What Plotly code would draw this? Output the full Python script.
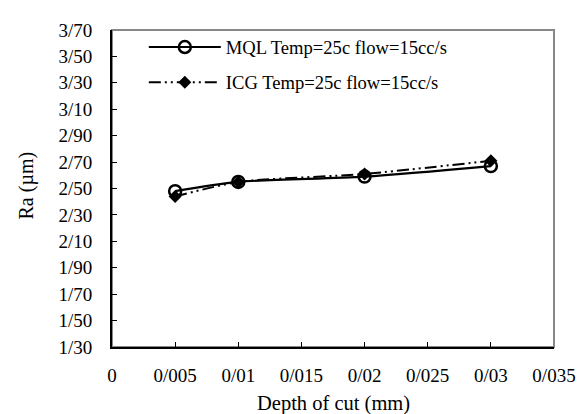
import plotly.graph_objects as go

depth = [0.005, 0.01, 0.02, 0.03]
ra_mql = [2.48, 2.55, 2.59, 2.67]
ra_icg = [2.44, 2.55, 2.61, 2.71]
name_mql = "MQL Temp=25c flow=15cc/s"
name_icg = "ICG Temp=25c flow=15cc/s"

x_ticks = [0, 0.005, 0.01, 0.015, 0.02, 0.025, 0.03, 0.035]
x_labels = ["0", "0/005", "0/01", "0/015", "0/02", "0/025", "0/03", "0/035"]
y_ticks = [1.30, 1.50, 1.70, 1.90, 2.10, 2.30, 2.50, 2.70, 2.90, 3.10, 3.30, 3.50, 3.70]
y_labels = ["1/30", "1/50", "1/70", "1/90", "2/10", "2/30", "2/50", "2/70", "2/90",
            "3/10", "3/30", "3/50", "3/70"]

FONT = "Liberation Serif"

fig = go.Figure()
fig.add_trace(go.Scatter(
    x=depth, y=ra_icg, name=name_icg, mode="lines+markers", legendgroup="b",
    line=dict(color="black", width=2, dash="12px,4px,2px,4px,2px,4px", shape="spline", smoothing=0.6),
    marker=dict(symbol="diamond", size=10, color="black"),
    legendrank=2,
))
fig.add_trace(go.Scatter(
    x=depth, y=ra_mql, name=name_mql, mode="lines+markers", legendgroup="a",
    line=dict(color="black", width=2.2, shape="spline", smoothing=0.8),
    marker=dict(symbol="circle-open", size=12, color="black", line=dict(width=2.5, color="black")),
    legendrank=1,
))

# page body has an 8px margin, so the figure is 8px smaller and shifted
fig.update_layout(
    width=580, height=406,
    margin=dict(l=104, r=25, t=12, b=67),
    paper_bgcolor="white", plot_bgcolor="white",
    font=dict(family=FONT, size=19, color="black"),
    showlegend=True,
    legend=dict(x=0.072, y=1.005, xanchor="left", yanchor="top",
                font=dict(family=FONT, size=18.6, color="black"),
                bgcolor="rgba(0,0,0,0)", itemwidth=72, tracegroupgap=8),
    shapes=[dict(type="rect", xref="paper", yref="paper", x0=0, x1=1, y0=0, y1=1,
                 line=dict(color="#888888", width=2), layer="below")],
)
fig.update_xaxes(range=[0, 0.035], tickvals=x_ticks, ticktext=x_labels,
                 showline=True, linecolor="black", linewidth=2, showgrid=False, zeroline=False,
                 ticks="inside", ticklen=5, tickwidth=1, tickcolor="black",
                 ticklabelstandoff=10, tickfont=dict(family=FONT, size=19))
fig.update_yaxes(range=[1.30, 3.70], tickvals=y_ticks, ticktext=y_labels,
                 showline=True, linecolor="black", linewidth=2, showgrid=False, zeroline=False,
                 ticks="inside", ticklen=5, tickwidth=1, tickcolor="black",
                 ticklabelstandoff=14, tickfont=dict(family=FONT, size=19))
fig.add_annotation(text="Depth of cut (mm)", xref="paper", yref="paper", x=0.5, y=0,
                   yshift=-56, xanchor="center", yanchor="middle", showarrow=False,
                   font=dict(family=FONT, size=20.5))
fig.add_annotation(text="Ra (µm)", xref="paper", yref="paper", x=0, y=0.5,
                   xshift=-86, yshift=3, xanchor="center", yanchor="middle", showarrow=False,
                   textangle=-90, font=dict(family=FONT, size=20))

fig.write_html("out.html", config={"displayModeBar": False})
